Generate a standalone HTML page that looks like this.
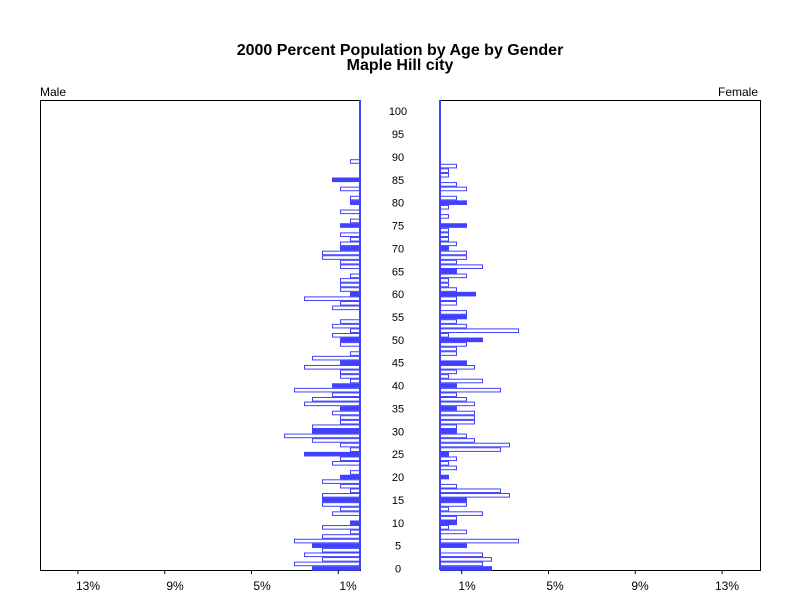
<!DOCTYPE html>
<html><head><meta charset="utf-8"><style>
body{margin:0;background:#fff;width:800px;height:600px;overflow:hidden}
svg text{font-family:"Liberation Sans",sans-serif;fill:#000}
</style></head><body>
<svg id="s" width="800" height="600" xmlns="http://www.w3.org/2000/svg">
<rect width="800" height="600" fill="#fff"/>
<text x="400" y="55" font-size="16" text-anchor="middle" font-weight="bold">2000 Percent Population by Age by Gender</text>
<text x="400" y="70" font-size="16" text-anchor="middle" font-weight="bold">Maple Hill city</text>
<text x="40" y="96" font-size="12">Male</text>
<text x="758" y="96" font-size="12" text-anchor="end">Female</text>
<rect x="40.5" y="100.5" width="320" height="470" fill="none" stroke="#000"/>
<rect x="440.5" y="100.5" width="320" height="470" fill="none" stroke="#000"/>
<g id="bars"></g>
<g id="lab" font-size="12"></g>
</svg>
<script>
var M={0:48,1:66,2:38,3:56,4:38,5:48,6:66,7:38,8:10,9:38,10:10,12:28,13:20,14:38,15:38,16:38,17:10,18:20,19:38,20:20,21:10,23:28,24:20,25:56,26:10,27:20,28:48,29:76,30:48,31:48,32:20,33:20,34:28,35:20,36:56,37:48,38:28,39:66,40:28,41:10,42:20,43:20,44:56,45:20,46:48,47:10,49:20,50:20,51:28,52:10,53:28,54:20,57:28,58:20,59:56,60:10,61:20,62:20,63:20,64:10,66:20,67:20,68:38,69:38,70:20,71:20,72:10,73:20,75:20,76:10,78:20,80:10,81:10,83:20,85:28,89:10};
var F={0:52,1:43,2:52,3:43,5:27,6:79,8:27,9:9,10:17,11:17,12:43,13:9,14:27,15:27,16:70,17:61,18:17,20:9,22:17,23:9,24:17,25:9,26:61,27:70,28:35,29:27,30:17,31:17,32:35,33:35,34:35,35:17,36:35,37:27,38:17,39:61,40:17,41:43,42:9,43:17,44:35,45:27,47:17,48:17,49:27,50:43,51:9,52:79,53:27,54:17,55:27,56:27,58:17,59:17,60:36,61:17,62:9,63:9,64:27,65:17,66:43,67:17,68:27,69:27,70:9,71:17,72:9,73:9,74:9,75:27,77:9,79:9,80:27,81:17,83:27,84:17,86:9,87:9,88:17};
var C="#4040ff",h="";
function bar(x,y,w,f){if(f)h+='<rect x="'+x+'" y="'+y+'" width="'+w+'" height="4.6" fill="'+C+'"/>';else h+='<rect x="'+(x+0.5)+'" y="'+(y+0.5)+'" width="'+(w-1)+'" height="3.6" fill="#fff" stroke="'+C+'"/>';}
for(var a=0;a<=100;a++){var y=568.5-4.573*a-2.3;
 if(M[a])bar(360-M[a],y,M[a],a%5==0);
 if(F[a])bar(440,y,F[a],a%5==0);}
h+='<line x1="360" y1="100" x2="360" y2="570" stroke="'+C+'" stroke-width="2"/>';
h+='<line x1="440" y1="100" x2="440" y2="570" stroke="'+C+'" stroke-width="2"/>';
var L="";
for(var a=0;a<=100;a+=5){L+='<text x="398" y="'+(568.5-4.573*a+4)+'" text-anchor="middle" font-size="11">'+a+'</text>';}
var p=[1,5,9,13],lx=[348,262,175,88],rx=[467,555,640,727];
for(var i=0;i<4;i++){var t1=360-21.7*p[i],t2=440+21.7*p[i];
 L+='<line x1="'+t1+'" y1="570" x2="'+t1+'" y2="574" stroke="#000"/><line x1="'+t2+'" y1="570" x2="'+t2+'" y2="574" stroke="#000"/>';
 L+='<text x="'+lx[i]+'" y="590" text-anchor="middle">'+p[i]+'%</text><text x="'+rx[i]+'" y="590" text-anchor="middle">'+p[i]+'%</text>';}
document.getElementById('bars').innerHTML=h;
document.getElementById('lab').innerHTML=L;
</script>
</body></html>
